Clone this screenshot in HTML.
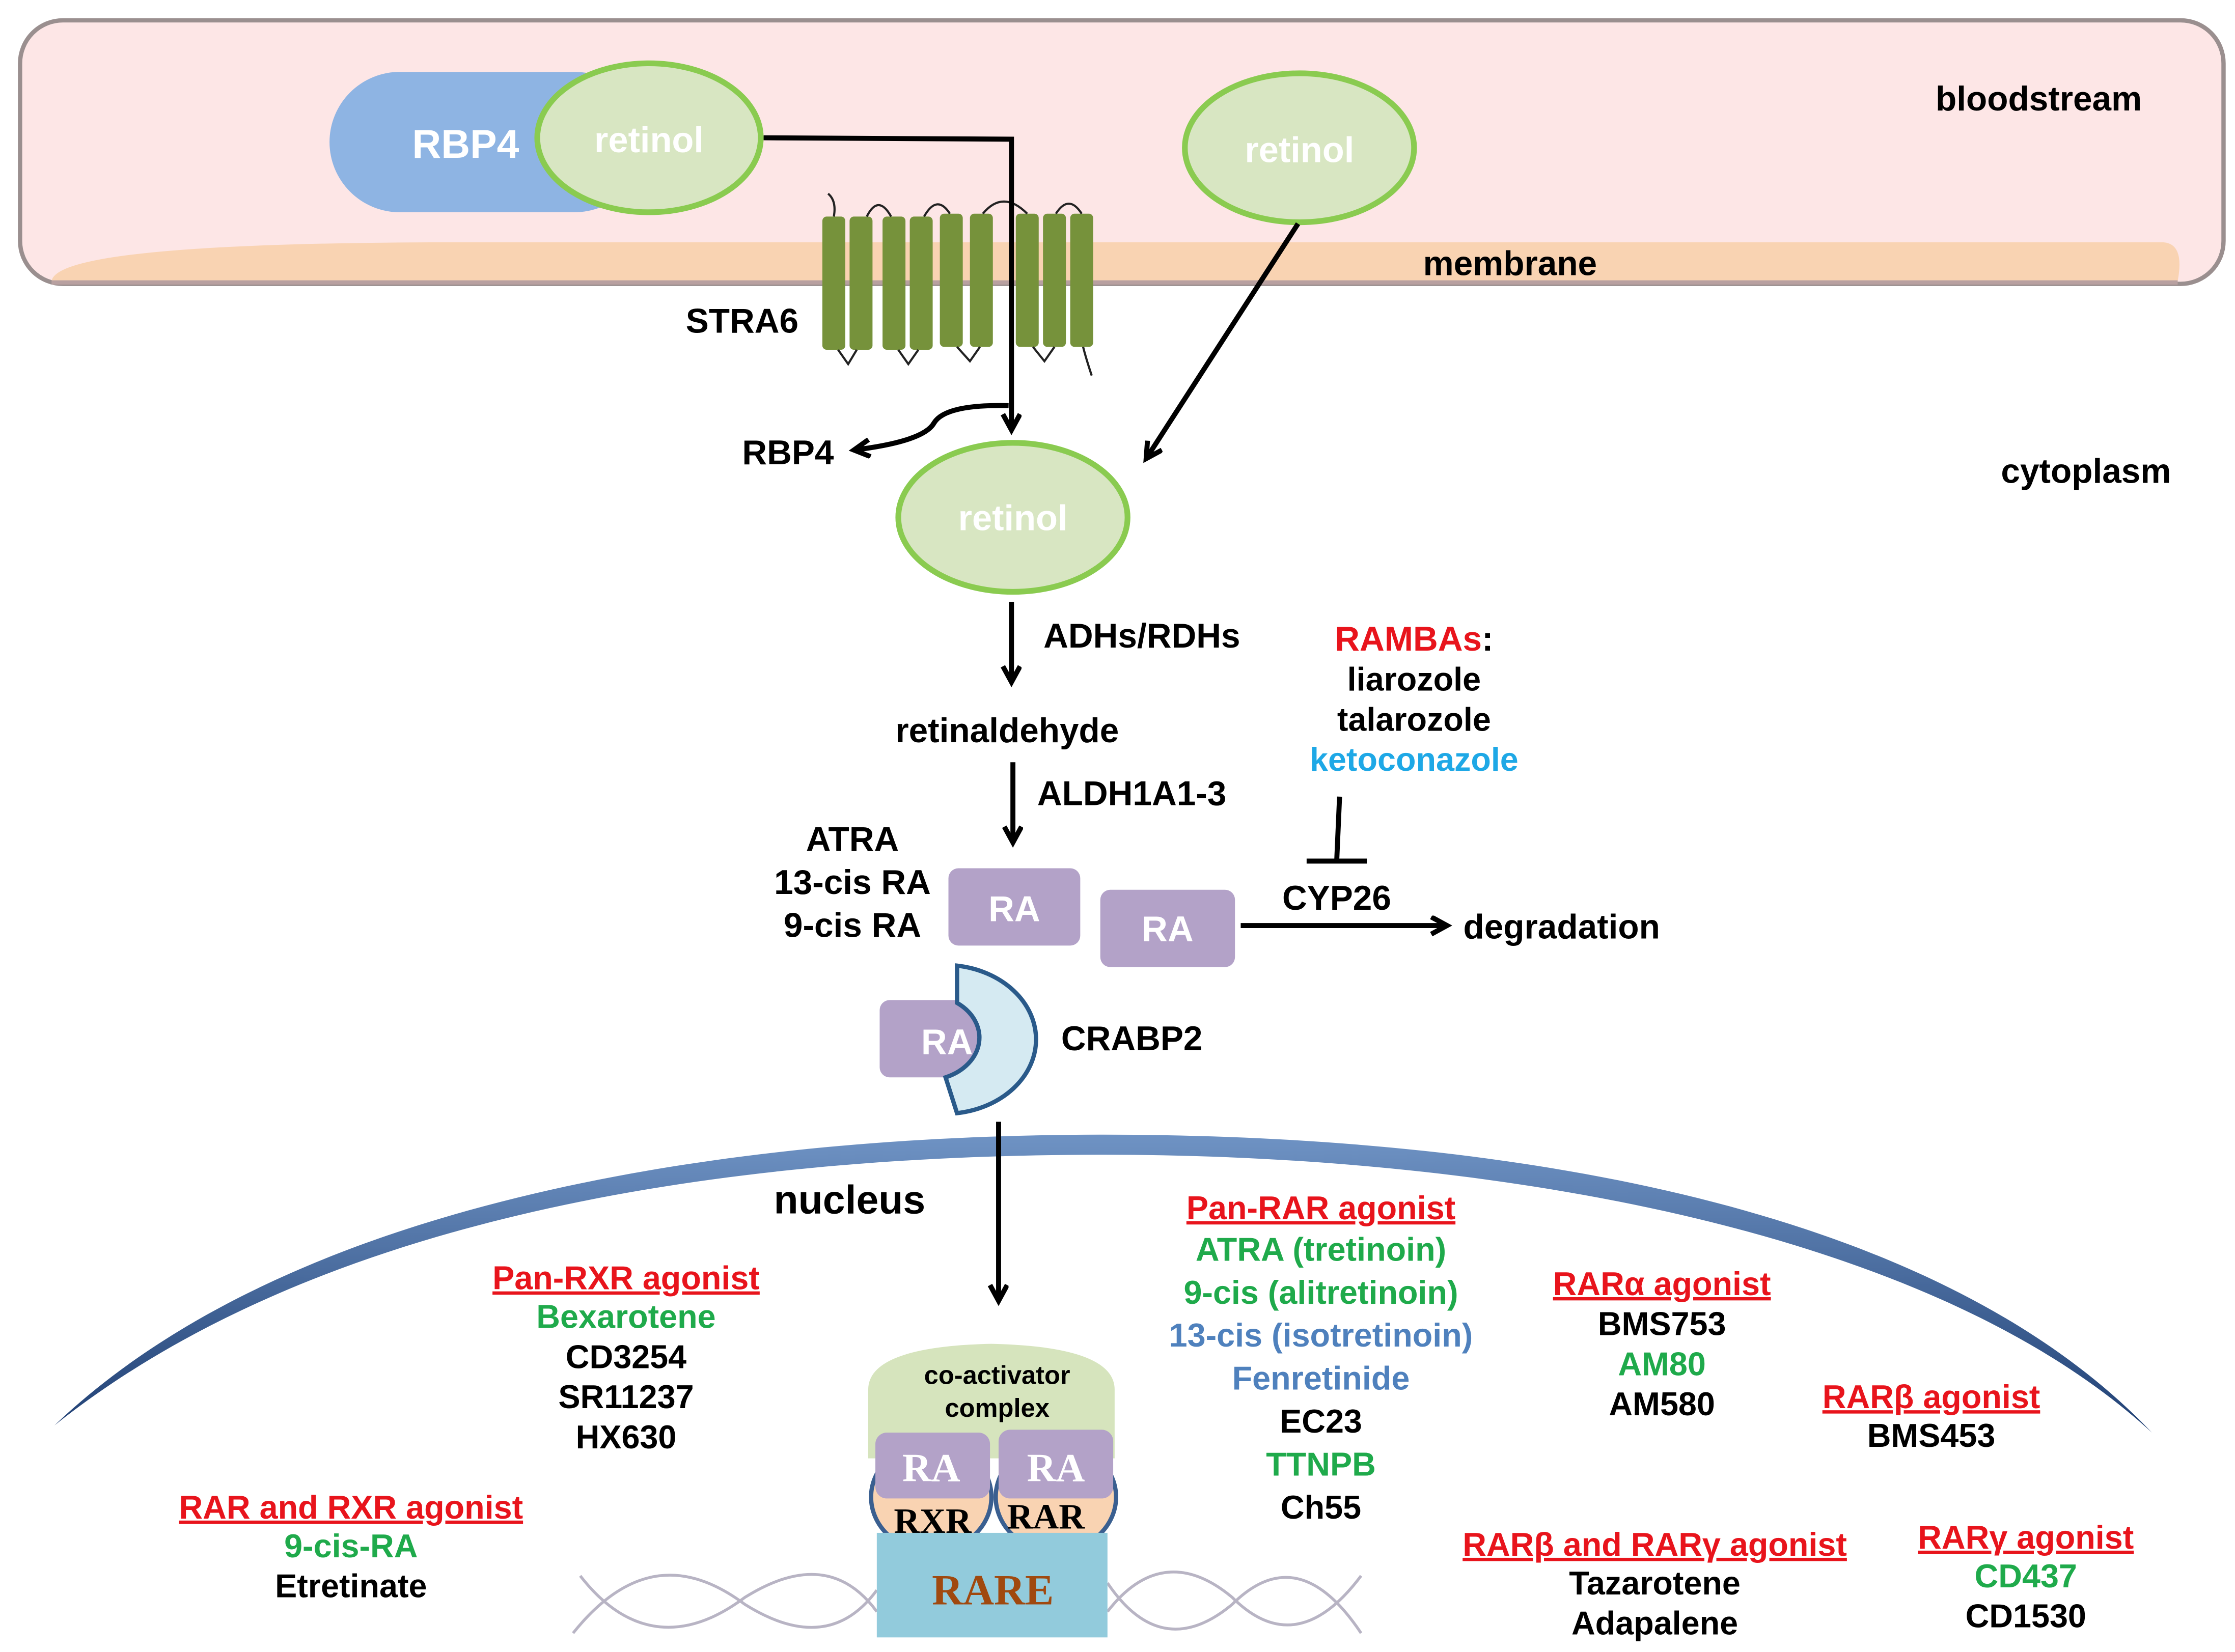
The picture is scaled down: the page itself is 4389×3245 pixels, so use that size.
<!DOCTYPE html>
<html><head><meta charset="utf-8"><style>
html,body{margin:0;padding:0;background:#fff;}
svg{display:block;}
text{font-family:"Liberation Sans",Arial,sans-serif;font-weight:bold;}
.s{font-family:"Liberation Serif",serif;}
</style></head><body>
<svg width="4389" height="3245" viewBox="0 0 1560 1153" xmlns="http://www.w3.org/2000/svg">
<defs>
<marker id="ah" markerWidth="16" markerHeight="16" refX="12" refY="7" orient="auto" markerUnits="userSpaceOnUse">
<path d="M1,1 L12,7 L1,13" fill="none" stroke="#000" stroke-width="3.5"/>
</marker>
<linearGradient id="nuc" x1="0" y1="0" x2="0" y2="1">
<stop offset="0" stop-color="#6f93c4"/><stop offset="1" stop-color="#1f3f73"/>
</linearGradient>
</defs>
<rect x="14" y="14" width="1538" height="184" rx="30" fill="#fde6e6" stroke="#9a8f8f" stroke-width="3"/>
<path d="M36,196 Q40,170 300,169 L1510,169 Q1525,170 1520,196 Z" fill="#f9d3b2"/>
<line x1="36" y1="197" x2="1520" y2="197" stroke="#b8a0a0" stroke-width="3"/>
<rect x="230" y="50" width="220" height="98" rx="49" fill="#8eb4e3"/>
<text x="325" y="110" font-size="28" fill="#fff" text-anchor="middle">RBP4</text>
<ellipse cx="453" cy="96" rx="78" ry="52" fill="#d8e6c2" stroke="#8acb50" stroke-width="4"/>
<text x="453" y="106" font-size="25" fill="#fff" text-anchor="middle">retinol</text>
<ellipse cx="907" cy="103" rx="80" ry="52" fill="#d8e6c2" stroke="#8acb50" stroke-width="4"/>
<text x="907" y="113" font-size="25" fill="#fff" text-anchor="middle">retinol</text>
<g fill="#76923b">
<rect x="574" y="151" width="16" height="93" rx="3"/><rect x="593" y="151" width="16" height="93" rx="3"/>
<rect x="616" y="151" width="16" height="93" rx="3"/><rect x="635" y="151" width="16" height="93" rx="3"/>
<rect x="656" y="149" width="16" height="93" rx="3"/><rect x="677" y="149" width="16" height="93" rx="3"/>
<rect x="709" y="149" width="16" height="93" rx="3"/><rect x="728" y="149" width="16" height="93" rx="3"/>
<rect x="747" y="149" width="16" height="93" rx="3"/>
</g>
<g fill="none" stroke="#222" stroke-width="1.5">
<path d="M582,151 Q584,140 578,135"/>
<path d="M605,151 Q613,135 622,151"/><path d="M645,151 Q654,135 663,149"/>
<path d="M686,149 Q700,132 717,149"/><path d="M737,149 Q746,135 755,149"/>
<path d="M585,244 L592,254 L598,244"/><path d="M627,244 L634,254 L641,244"/>
<path d="M668,242 L677,252 L684,242"/><path d="M721,242 L729,252 L736,242"/>
<path d="M756,242 Q758,250 762,262"/>
</g>
<text x="518" y="232" font-size="24" text-anchor="middle">STRA6</text>
<text x="1054" y="192" font-size="24" text-anchor="middle">membrane</text>
<text x="1423" y="77" font-size="24" text-anchor="middle">bloodstream</text>
<text x="1456" y="337" font-size="24" text-anchor="middle">cytoplasm</text>
<path d="M533,96 L706,97 L706,300" fill="none" stroke="#000" stroke-width="3.5" marker-end="url(#ah)"/>
<path d="M704,283 Q660,282 652,295 Q645,308 596,314" fill="none" stroke="#000" stroke-width="3.5" marker-end="url(#ah)"/>
<text x="550" y="324" font-size="24" text-anchor="middle">RBP4</text>
<path d="M906,156 L800,320" fill="none" stroke="#000" stroke-width="3.5" marker-end="url(#ah)"/>
<ellipse cx="707" cy="361" rx="80" ry="52" fill="#d8e6c2" stroke="#8acb50" stroke-width="4"/>
<text x="707" y="370" font-size="25" fill="#fff" text-anchor="middle">retinol</text>
<path d="M706,420 L706,476" fill="none" stroke="#000" stroke-width="3.5" marker-end="url(#ah)"/>
<text x="797" y="452" font-size="24" text-anchor="middle">ADHs/RDHs</text>
<text x="703" y="518" font-size="24" text-anchor="middle">retinaldehyde</text>
<path d="M707,532 L707,588" fill="none" stroke="#000" stroke-width="3.5" marker-end="url(#ah)"/>
<text x="790" y="562" font-size="24" text-anchor="middle">ALDH1A1-3</text>
<text x="595" y="594" font-size="24" text-anchor="middle">ATRA</text>
<text x="595" y="624" font-size="24" text-anchor="middle">13-cis RA</text>
<text x="595" y="654" font-size="24" text-anchor="middle">9-cis RA</text>
<rect x="662" y="606" width="92" height="54" rx="7" fill="#b3a2c8"/>
<text x="708" y="643" font-size="25" fill="#fff" text-anchor="middle">RA</text>
<rect x="768" y="621" width="94" height="54" rx="7" fill="#b3a2c8"/>
<text x="815" y="657" font-size="25" fill="#fff" text-anchor="middle">RA</text>
<path d="M866,646 L1010,646" fill="none" stroke="#000" stroke-width="3.5" marker-end="url(#ah)"/>
<text x="1090" y="655" font-size="24" text-anchor="middle">degradation</text>
<text x="933" y="635" font-size="24" text-anchor="middle">CYP26</text>
<line x1="935" y1="556" x2="933" y2="601" stroke="#000" stroke-width="3.5"/>
<line x1="912" y1="601" x2="954" y2="601" stroke="#000" stroke-width="3.5"/>
<text x="987" y="454" font-size="24" text-anchor="middle"><tspan fill="#e8141c">RAMBAs</tspan>:</text>
<text x="987" y="482" font-size="23" text-anchor="middle">liarozole</text>
<text x="987" y="510" font-size="23" text-anchor="middle">talarozole</text>
<text x="987" y="538" font-size="23" fill="#1ea8e6" text-anchor="middle">ketoconazole</text>
<rect x="614" y="698" width="92" height="54" rx="7" fill="#b3a2c8"/>
<text x="661" y="736" font-size="25" fill="#fff" text-anchor="middle">RA</text>
<path d="M668,674 A64,52 0 0 1 668,777 L660,752 A38,30 0 0 0 668,700 Z" fill="#d5eaf2" stroke="#2a5a8a" stroke-width="3"/>
<text x="790" y="733" font-size="24" text-anchor="middle">CRABP2</text>
<path d="M38,995 C200,840 500,792 770,792 C1050,792 1350,840 1502,1000 C1350,860 1050,806 770,806 C500,806 220,850 38,995 Z" fill="url(#nuc)"/>
<path d="M697,783 L697,908" fill="none" stroke="#000" stroke-width="3.5" marker-end="url(#ah)"/>
<text x="593" y="847" font-size="28" text-anchor="middle">nucleus</text>
<g fill="none" stroke="#b8b4c4" stroke-width="2">
<path d="M400,1140 C440,1090 480,1090 520,1120 C560,1145 590,1140 612,1110"/>
<path d="M405,1100 C440,1145 480,1145 520,1115 C560,1090 590,1095 612,1125"/>
<path d="M773,1125 C800,1090 830,1090 860,1115 C890,1145 920,1140 950,1100"/>
<path d="M773,1105 C800,1145 830,1145 860,1120 C890,1090 920,1095 950,1140"/>
</g>
<path d="M606,1018 L606,970 Q606,940 692,938 Q778,940 778,970 L778,1018 Z" fill="#d6e4bd"/>
<text x="696" y="966" font-size="18" text-anchor="middle">co-activator</text>
<text x="696" y="989" font-size="18" text-anchor="middle">complex</text>
<ellipse cx="650" cy="1045" rx="42" ry="38" fill="#f9d3b2" stroke="#3a5f90" stroke-width="3"/>
<ellipse cx="737" cy="1045" rx="42" ry="38" fill="#f9d3b2" stroke="#3a5f90" stroke-width="3"/>
<rect x="611" y="1000" width="80" height="46" rx="8" fill="#b3a2c8"/>
<rect x="697" y="998" width="80" height="48" rx="8" fill="#b3a2c8"/>
<text x="650" y="1034" font-size="28" class="s" fill="#fff" text-anchor="middle">RA</text>
<text x="737" y="1034" font-size="28" class="s" fill="#fff" text-anchor="middle">RA</text>
<text x="651" y="1070" font-size="25" class="s" text-anchor="middle">RXR</text>
<text x="730" y="1067" font-size="25" class="s" text-anchor="middle">RAR</text>
<rect x="612" y="1070" width="161" height="73" fill="#92cbdc"/>
<text x="693" y="1120" font-size="30" class="s" fill="#a0490f" text-anchor="middle">RARE</text>
<g font-size="23" text-anchor="middle">
<text x="437" y="900" fill="#e8141c" text-decoration="underline">Pan-RXR agonist</text>
<text x="437" y="927" fill="#1faa4b">Bexarotene</text>
<text x="437" y="955">CD3254</text>
<text x="437" y="983">SR11237</text>
<text x="437" y="1011">HX630</text>
<text x="245" y="1060" fill="#e8141c" text-decoration="underline">RAR and RXR agonist</text>
<text x="245" y="1087" fill="#1faa4b">9-cis-RA</text>
<text x="245" y="1115">Etretinate</text>
<text x="922" y="851" fill="#e8141c" text-decoration="underline">Pan-RAR agonist</text>
<text x="922" y="880" fill="#1faa4b">ATRA (tretinoin)</text>
<text x="922" y="910" fill="#1faa4b">9-cis (alitretinoin)</text>
<text x="922" y="940" fill="#4f81bd">13-cis (isotretinoin)</text>
<text x="922" y="970" fill="#4f81bd">Fenretinide</text>
<text x="922" y="1000">EC23</text>
<text x="922" y="1030" fill="#1faa4b">TTNPB</text>
<text x="922" y="1060">Ch55</text>
<text x="1160" y="904" fill="#e8141c" text-decoration="underline">RARα agonist</text>
<text x="1160" y="932">BMS753</text>
<text x="1160" y="960" fill="#1faa4b">AM80</text>
<text x="1160" y="988">AM580</text>
<text x="1348" y="983" fill="#e8141c" text-decoration="underline">RARβ agonist</text>
<text x="1348" y="1010">BMS453</text>
<text x="1155" y="1086" fill="#e8141c" text-decoration="underline">RARβ and RARγ agonist</text>
<text x="1155" y="1113">Tazarotene</text>
<text x="1155" y="1141">Adapalene</text>
<text x="1414" y="1081" fill="#e8141c" text-decoration="underline">RARγ agonist</text>
<text x="1414" y="1108" fill="#1faa4b">CD437</text>
<text x="1414" y="1136">CD1530</text>
</g>
</svg>
</body></html>
